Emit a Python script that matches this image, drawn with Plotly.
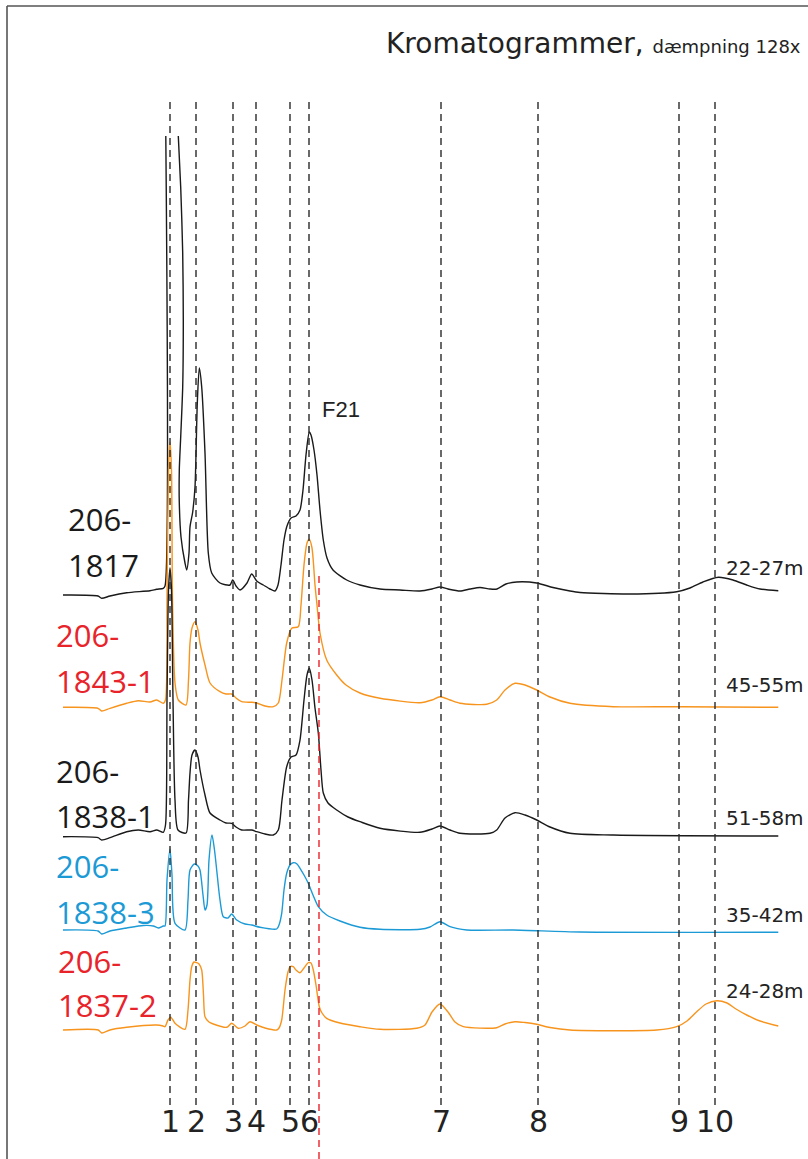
import plotly.graph_objects as go

# ---------------- data (retention position, detector response) ----------------
peak_times = [170, 196, 233, 256, 290, 309, 441, 538, 679, 715]
peak_labels = ["1", "2", "3", "4", "5", "6", "7", "8", "9", "10"]
ref_time = 319  # red reference marker (F21)

sample_names = ["206-<br>1817", "206-<br>1843-1", "206-<br>1838-1", "206-<br>1838-3", "206-<br>1837-2"]
depths = ["22-27m", "45-55m", "51-58m", "35-42m", "24-28m"]
stack_offsets = [563, 451, 321, 229, 129]

t1 = [63, 98, 101.7, 110, 126.7, 150, 156.7, 163.3, 165, 165.8, None, 178.3, 180.7, 182.7, 183.3, 182.7,
      180.7, 179.3, 179.3, 181, 185, 186.7, 189, 190, 192.7, 195, 197.3, 199.3, 201.7, 205, 208.3, 211.7,
      220, 230, 232.7, 236, 240, 247, 251.7, 256.7, 263.3, 270, 275, 278, 281, 284, 287, 291, 296, 300,
      303, 306, 309.3, 311, 314, 317, 320, 323.3, 327, 333, 346.7, 360, 380, 400, 420, 432, 440, 448, 460,
      470, 480, 490, 497, 506, 516.7, 536.7, 553, 570, 580, 630, 676.7, 690, 703, 718.3, 733, 746.7, 760, 778.3]
s1 = [1, 0, -2.3, 0, 3.3, 5.3, 6.7, 7.7, 10, 460, None, 460, 409, 343, 276, 209, 159, 126, 93, 59, 33,
      26, 43, 69, 84, 109, 193, 228, 209, 143, 43, 23, 13, 11, 16, 10, 6, 13, 22, 15, 11, 7, 5, 11, 31, 56,
      70, 78, 80, 86, 106, 141, 164, 161, 146, 121, 86, 56, 38, 26, 16, 11, 7, 6, 5, 7, 9, 7, 5, 7, 8.5,
      7, 7, 12, 14, 13, 8.5, 5, 3.5, 2, 4.3, 8, 14, 18.7, 16, 11, 7, 5.3]

t2 = [63, 98, 101.7, 110, 126.7, 138.3, 150, 156.7, 163.3, 165.5, 167, 168.5, 170, 171.5, 172.5, 175, 178.3,
      186, 188.5, 190, 192, 195, 198, 200, 205, 210, 220, 226, 231.7, 236, 241.7, 251.7, 256.7, 265, 273.3,
      278.3, 282, 286.7, 291.7, 298.3, 301, 304, 307, 309.3, 312, 315, 317, 320, 326.7, 336.7, 346, 360,
      380, 420, 432, 440, 450, 460, 486.7, 496.7, 505, 515, 525, 536.7, 550, 570, 613.3, 680, 778.3]
s2 = [0.7, -0.3, -3, -0.3, 4.7, 7.3, 6, 8, 4.7, 8, 108, 238, 266, 238, 108, 25, 8, 3, 28, 65, 80, 86.3,
      78, 65, 43, 25, 16.3, 14, 14, 10, 6.3, 5.7, 5, 2, 1.3, 5, 28, 65, 79.7, 81.3, 103, 143, 165, 168.7,
      160, 123, 103, 75, 48, 33, 23, 15, 9.7, 5.3, 8, 11.3, 8, 4.7, 3.7, 8, 18, 24.7, 23, 18, 11, 4.7,
      1.3, 1.3, 0.7]

t3 = [63, 98, 101.7, 110, 126.7, 138.3, 150, 156.7, 163.3, 165.5, 167, 168.5, 170, 171.5, 173, 175, 178,
      186, 188.5, 190, 192, 195, 198, 200, 205, 210, 220, 226, 231.7, 236, 241.7, 251.7, 256.7, 265, 273.3,
      278.3, 282, 286.7, 291, 296, 300, 304, 307, 309.3, 312, 315, 318.3, 321, 323.3, 328, 336.7, 348,
      360, 380, 420, 432, 440, 450, 460, 490, 496.7, 505, 515, 525, 536.7, 550, 570, 613.3, 778.3]
s3 = [1.3, 0.3, -2, 0.3, 6.3, 8, 6.3, 8, 5.7, 13, 138, 248, 270, 248, 138, 38, 8, 5, 38, 65, 83, 88,
      81, 68, 43, 25, 18, 15, 14.7, 11, 8, 8, 6.3, 4, 3, 8, 38, 71.3, 81, 83, 98, 138, 163, 169.7, 158,
      130, 105, 68, 45, 35, 28, 21, 16.3, 9.7, 5.7, 9, 12, 8, 4.7, 4.7, 8, 20, 25.3, 23, 18, 11, 4.7, 3, 2]

t4 = [63, 98, 101.7, 110, 126.7, 143.3, 153.3, 158.3, 163.3, 165, 167, 170, 172, 175, 185, 188, 190,
      194.3, 198, 200, 203, 205, 207, 209, 212, 214.5, 216.7, 220, 223.3, 228, 231.7, 236.7, 245, 251.7,
      260, 276.7, 279, 281.7, 284, 286.7, 290, 293.3, 297, 300, 304, 308.3, 313, 318.3, 326.7, 340, 360,
      380, 420, 430, 440, 450, 466.7, 513.3, 580, 778.3]
s4 = [0, -1, -4, -1, 2, 4.5, 4, 2, 4, 4, 50, 80.7, 55, 6.7, 0, 30, 60, 66, 64, 60, 35, 20, 25, 70, 95,
      80, 60, 30, 13.3, 12, 16, 10, 6, 5, 2.7, 1, 5, 16.7, 40, 56.7, 65, 67.3, 66, 61.7, 55, 46.7, 35,
      23.3, 15, 9, 2.7, 0.7, 0.7, 3, 8.3, 3.3, 0, 0, -2, -2.3]

t5 = [63, 98.3, 101.7, 110, 126.7, 156.7, 163, 165, 168, 170.7, 173, 175, 185, 188, 190, 191.7, 194,
      196.7, 199, 201.7, 203.5, 205, 209, 213.3, 226.7, 231.7, 238.3, 245, 250, 256.7, 265, 276.7, 279,
      281.7, 285, 288, 290, 293.3, 296, 300, 304, 308.3, 311, 313.3, 316, 319.3, 322, 326.7, 340, 360,
      380, 416.7, 425, 432, 440, 448, 455, 463.3, 496.7, 505, 515, 525, 536.7, 550, 570, 656.7, 676.7,
      687, 696.7, 706, 716.7, 727, 736, 746.7, 760, 778.3]
s5 = [0, 0, -3, 0, 2.7, 5, 4, 3.3, 10, 12.7, 10, 6.7, 0.7, 20, 50, 63.3, 68, 67.3, 66, 60, 35, 13.3,
      8, 6, 2.7, 6.7, 1.7, 4, 8.3, 5, 2, 0, 2, 10, 40, 58, 63.3, 63.3, 60, 57.3, 62, 67.3, 67, 60, 45,
      23.3, 17, 11.7, 7, 3.3, 0.7, 1.7, 5, 18, 26, 18, 8, 3.3, 2.3, 6, 8.3, 7.5, 5.7, 2.5, 0, 0, 3.3, 9,
      18.3, 26, 29.3, 27, 21, 15, 9, 4]

times = [t1, t2, t3, t4, t5]
signals = [s1, s2, s3, s4, s5]

# ---------------- styling ----------------
W, H = 808, 1159
BLACK = "#1a1a1a"
ORANGE = "#f7941d"
BLUE = "#1c9ad6"
RED = "#e8232a"
line_colors = [BLACK, ORANGE, BLACK, BLUE, ORANGE]
label_colors = [BLACK, RED, BLACK, BLUE, RED]

fig = go.Figure()

for t, s, off, c in zip(times, signals, stack_offsets, line_colors):
    y = [None if v is None else off + v for v in s]
    fig.add_trace(go.Scatter(x=t, y=y, mode="lines",
                             line=dict(color=c, width=1.4, shape="spline", smoothing=0.7),
                             connectgaps=False, hoverinfo="skip", showlegend=False))

def py(px):
    return 1 - px / H

shapes = []
for pt in peak_times:
    shapes.append(dict(type="line", xref="x", yref="paper", x0=pt, x1=pt, y0=py(1105), y1=py(97),
                       line=dict(color="#2a2a2a", width=1.4, dash="7px,5px")))
shapes.append(dict(type="line", xref="x", yref="paper", x0=ref_time, x1=ref_time, y0=0, y1=py(575),
                   line=dict(color=RED, width=1.4, dash="7px,5px")))
# frame (top + left)
shapes.append(dict(type="line", xref="paper", yref="paper", x0=7 / W, x1=1, y0=py(6), y1=py(6),
                   line=dict(color="#555555", width=1.6)))
shapes.append(dict(type="line", xref="paper", yref="paper", x0=7 / W, x1=7 / W, y0=0, y1=py(6),
                   line=dict(color="#555555", width=1.6)))

annotations = []
# title
annotations.append(dict(xref="paper", yref="paper", x=803 / W, y=py(44), xanchor="right", yanchor="middle",
                        text="Kromatogrammer, <span style='font-size:18px'>dæmpning 128x</span>",
                        showarrow=False, font=dict(family="DejaVu Sans", size=28, color="#222222")))
# F21
annotations.append(dict(xref="x", yref="paper", x=341, y=py(410), xanchor="center", yanchor="middle",
                        text="F21", showarrow=False,
                        font=dict(family="Liberation Sans", size=22, color="#222222")))
# sample labels (two lines each)
label_pos = [(66, 519.5, 564.5), (54, 634.5, 681), (54, 771, 816), (54, 866, 911.5), (56, 961, 1005)]
for name, col, (lx, ya, yb) in zip(sample_names, label_colors, label_pos):
    first, second = name.split("<br>")
    for txt, yy in ((first, ya), (second, yb)):
        annotations.append(dict(xref="paper", yref="paper", x=lx / W, y=py(yy), xanchor="left",
                                yanchor="middle", text=txt, showarrow=False,
                                font=dict(family="Open Sans", size=31, color=col)))
# depth labels
depth_y = [568, 685, 818, 914.7, 991]
for d, yy in zip(depths, depth_y):
    annotations.append(dict(xref="paper", yref="paper", x=806 / W, y=py(yy), xanchor="right",
                            yanchor="middle", text=d, showarrow=False,
                            font=dict(family="DejaVu Sans", size=20, color="#222222")))
# peak numbers
for pt, lab in zip(peak_times, peak_labels):
    annotations.append(dict(xref="x", yref="paper", x=pt, y=py(1121), xanchor="center", yanchor="middle",
                            text=lab, showarrow=False,
                            font=dict(family="DejaVu Sans", size=30, color="#222222")))

fig.update_layout(
    width=W, height=H, margin=dict(l=0, r=0, t=0, b=0),
    paper_bgcolor="white", plot_bgcolor="white",
    xaxis=dict(range=[0, W], visible=False, fixedrange=True),
    yaxis=dict(range=[0, H], visible=False, fixedrange=True),
    shapes=shapes, annotations=annotations, showlegend=False,
)

fig.write_html("out.html")
